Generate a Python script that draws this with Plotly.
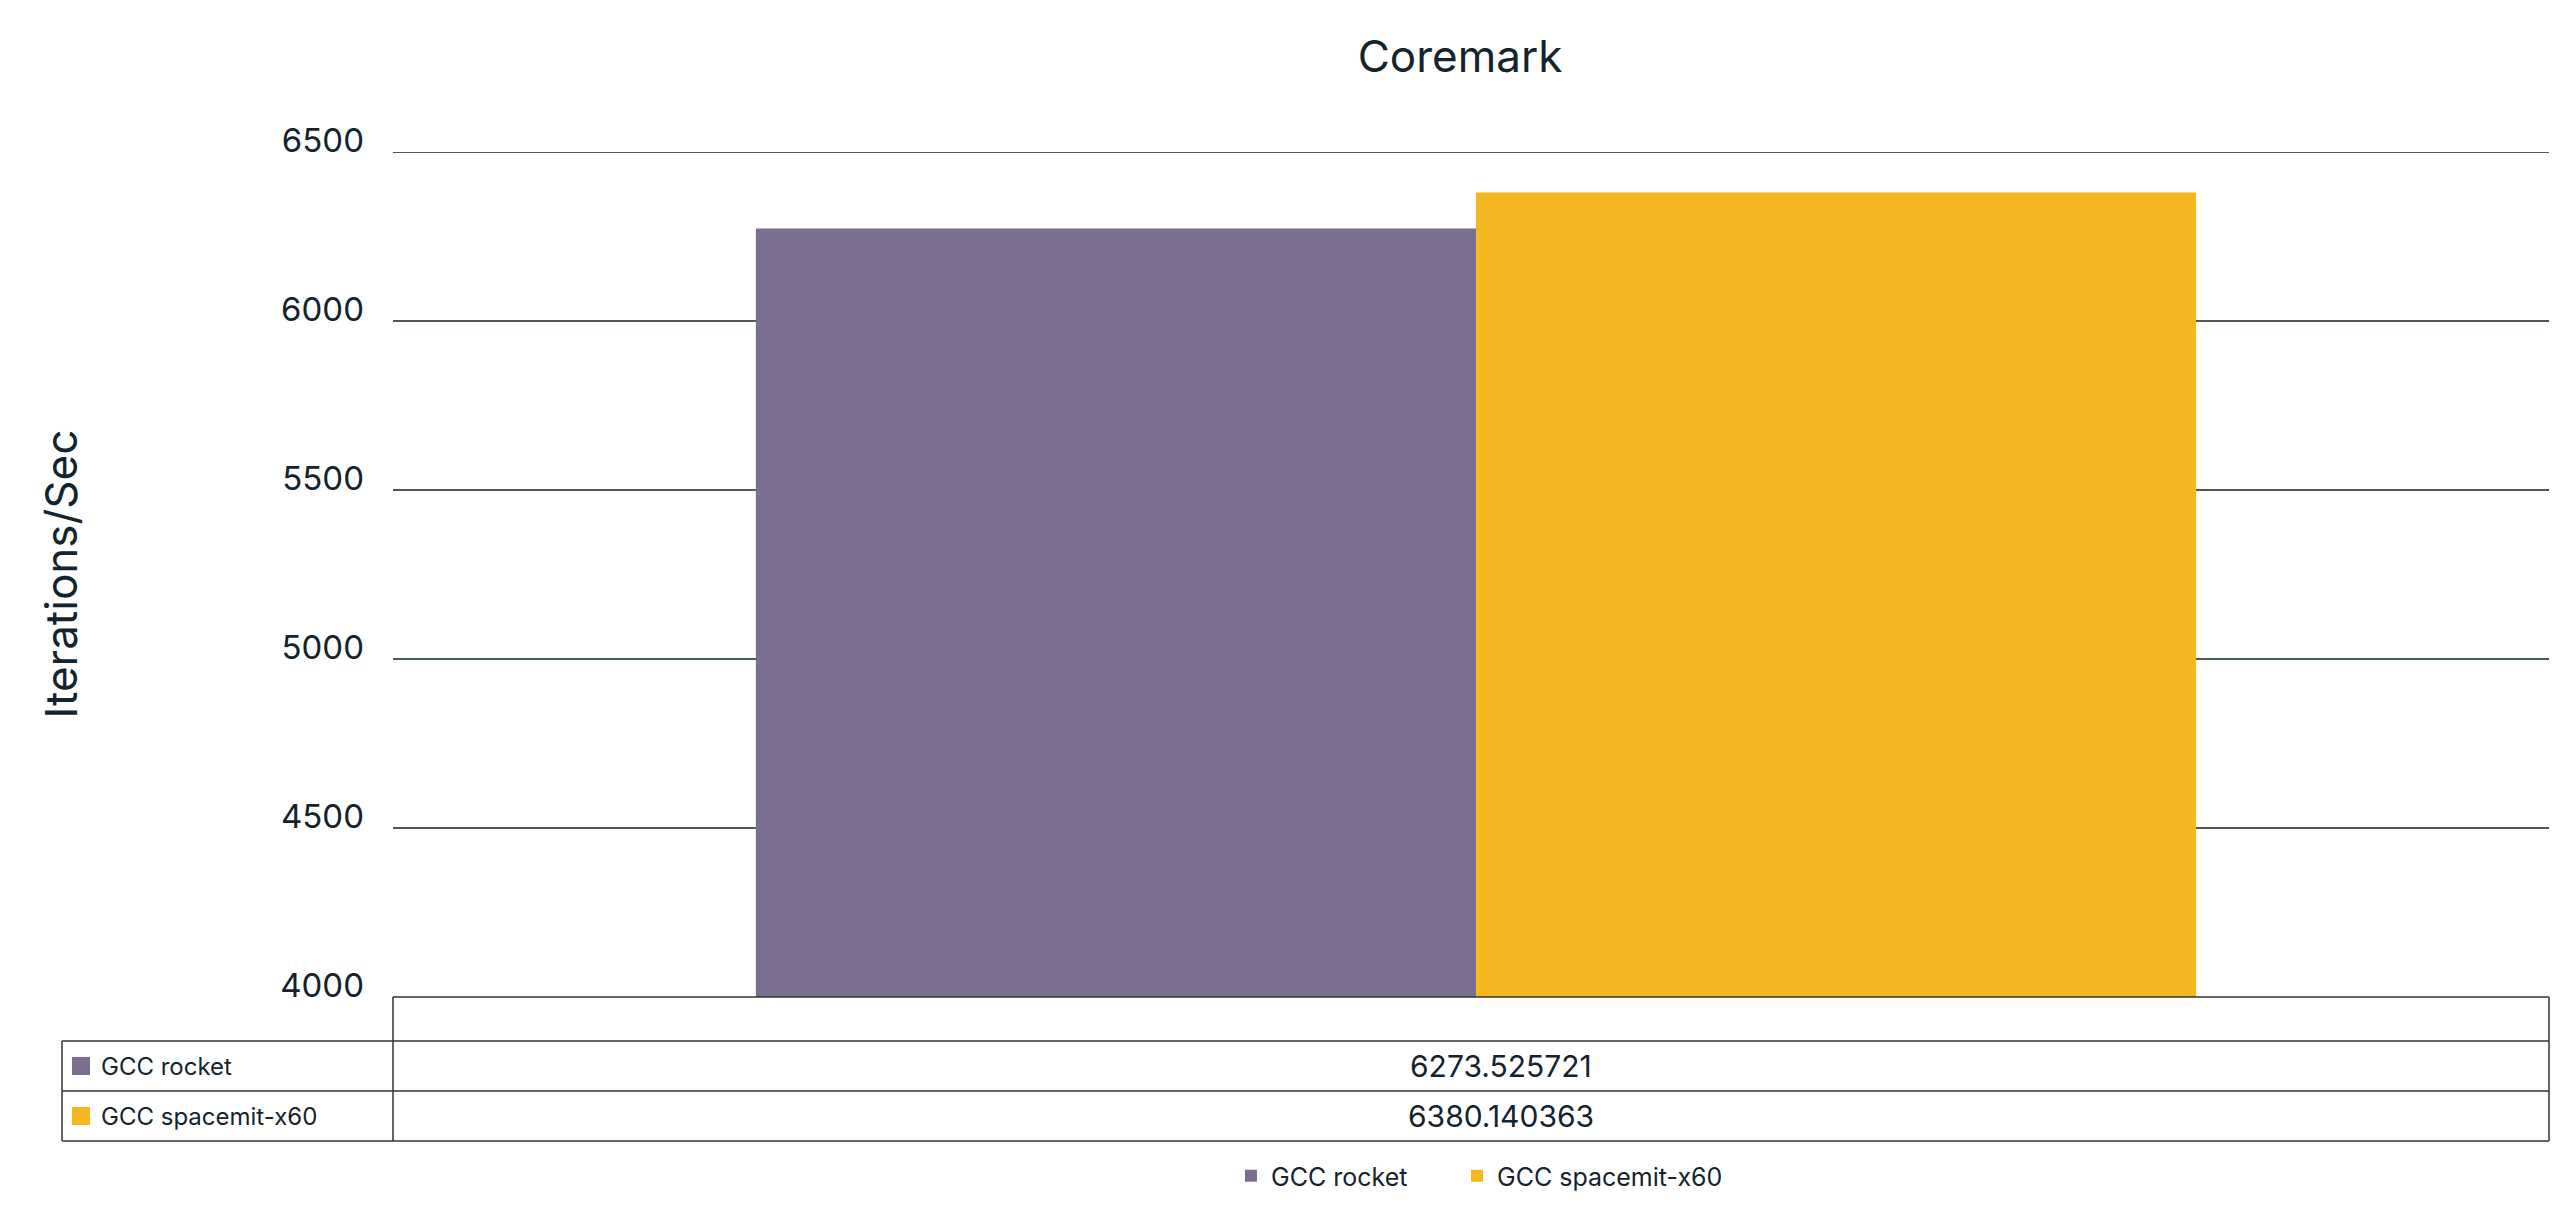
import plotly.graph_objects as go

# Data
category = ["Coremark"]
series = ["GCC rocket", "GCC spacemit-x60"]
values = [6273.525721, 6380.140363]
value_labels = ["6273.525721", "6380.140363"]
colors = ["#7b6f91", "#f4b71f"]
y_ticks = [4000, 4500, 5000, 5500, 6000, 6500]

W, H = 2560, 1210
OFF = 8  # default body margin of the html page
# plot area in screen pixels
L, R, T, B = 393, 2549, 152, 997
TEXT = "#13242e"
LINE = "#333333"
GRID = "#4a5860"
FONT = "Inter, Lato, sans-serif"


def fx(px):
    return (px - L) / (R - L)


def fy(py):
    return (B - py) / (B - T)


fig = go.Figure()
legends = ["legend", "legend2"]
for name, val, col, lg in zip(series, values, colors, legends):
    fig.add_trace(go.Bar(x=category, y=[val], name=name, legend=lg,
                         marker_color=col, marker_line_width=0))

# Data table under the plot
row_tops = [1041, 1091]
row_h = 50
label_left = 62

shapes = []


def hline(y, x0, x1):
    shapes.append(dict(type="line", xref="paper", yref="paper",
                       x0=fx(x0), x1=fx(x1), y0=fy(y), y1=fy(y),
                       line=dict(color=LINE, width=1.5)))


def vline(x, y0, y1):
    shapes.append(dict(type="line", xref="paper", yref="paper",
                       x0=fx(x), x1=fx(x), y0=fy(y0), y1=fy(y1),
                       line=dict(color=LINE, width=1.5)))


# top gridline (sits on the edge of the range)
shapes.append(dict(type="line", xref="paper", yref="y", x0=0, x1=1,
                   y0=y_ticks[-1], y1=y_ticks[-1], layer="below",
                   line=dict(color=GRID, width=2)))

hline(B, L, R)
for y in row_tops + [row_tops[-1] + row_h]:
    hline(y, label_left, R)
vline(L, B, row_tops[-1] + row_h)
vline(R, B, row_tops[-1] + row_h)
vline(label_left, row_tops[0], row_tops[-1] + row_h)

annotations = []
for top, name, lab, col in zip(row_tops, series, value_labels, colors):
    yc = top + row_h / 2
    shapes.append(dict(type="rect", xref="paper", yref="paper",
                       x0=fx(72), x1=fx(90), y0=fy(yc - 9), y1=fy(yc + 9),
                       fillcolor=col, line_width=0))
    annotations.append(dict(x=fx(99), y=fy(yc), xref="paper", yref="paper",
                            text=name, showarrow=False, xanchor="left",
                            yanchor="middle", font=dict(size=24, color=TEXT)))
    annotations.append(dict(x=fx(1501), y=fy(yc), xref="paper", yref="paper",
                            text=lab, showarrow=False, xanchor="center",
                            yanchor="middle", font=dict(size=30, color=TEXT)))

# y axis title
annotations.append(dict(x=fx(60), y=0.5, xref="paper", yref="paper",
                        text="Iterations/Sec", textangle=-90, showarrow=False,
                        xanchor="center", yanchor="middle",
                        font=dict(size=44, color=TEXT)))

legend_style = dict(orientation="h", y=fy(1176), xanchor="left",
                    yanchor="middle", font=dict(size=25, color=TEXT),
                    bgcolor="rgba(0,0,0,0)")

fig.update_layout(
    width=W - OFF, height=H - OFF,
    margin=dict(l=L - OFF, r=W - R, t=T - OFF, b=H - B),
    paper_bgcolor="white", plot_bgcolor="white",
    font=dict(family=FONT, color=TEXT),
    title=dict(text="Coremark", x=fx(1460), xref="paper", xanchor="center",
               y=1 - (57 - OFF) / (H - OFF), yanchor="middle",
               font=dict(size=44, color=TEXT)),
    barmode="group", bargap=0.332,
    showlegend=True,
    legend=dict(x=fx(1231), **legend_style),
    legend2=dict(x=fx(1457), **legend_style),
    shapes=shapes, annotations=annotations,
)
fig.update_xaxes(showticklabels=False, showgrid=False, showline=False,
                 ticks="", range=[-0.5023, 0.4977])
fig.update_yaxes(range=[4000, 6500], tickvals=y_ticks, showgrid=True,
                 gridcolor=GRID, gridwidth=1.5, zeroline=False,
                 showline=False, ticks="", ticklabelstandoff=28,
                 ticklabelshift=-12, tickfont=dict(size=33, color=TEXT))

fig.write_html("out.html")
